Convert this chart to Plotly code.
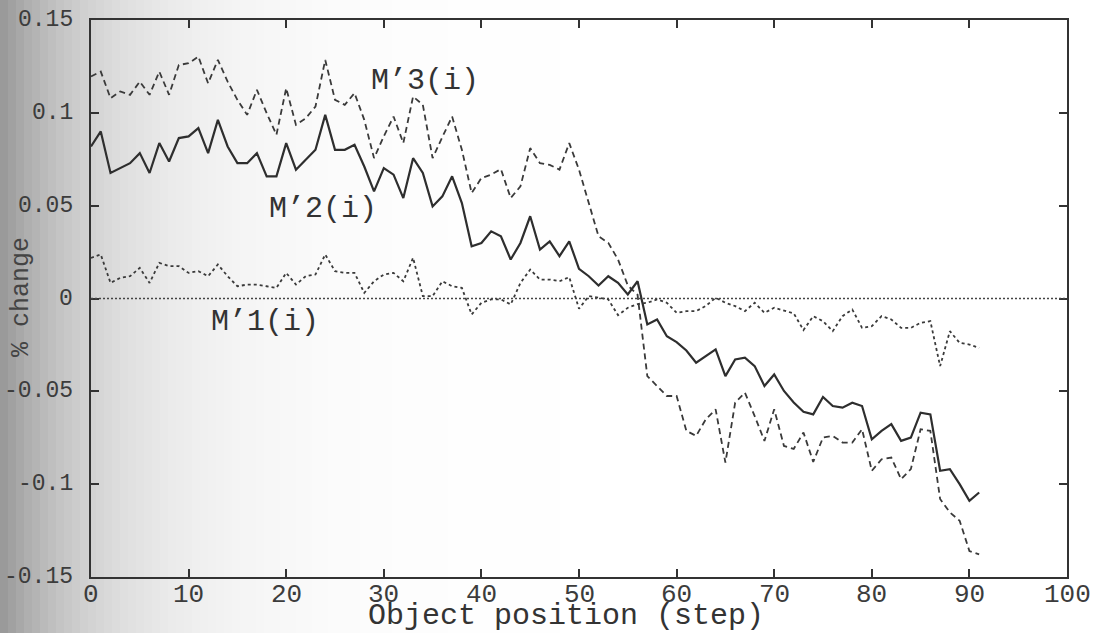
import math
import plotly.graph_objects as go

steps = list(range(0, 92))

m3 = [0.1196, 0.1222, 0.1079, 0.1115, 0.1097, 0.1168, 0.1097, 0.1222, 0.1097, 0.1258,
      0.1267, 0.1303, 0.1159, 0.1285, 0.1168, 0.1070, 0.0989, 0.1124, 0.0998, 0.0882,
      0.1133, 0.0935, 0.0971, 0.1034, 0.1285, 0.1070, 0.1043, 0.1106, 0.0962, 0.0756,
      0.0873, 0.0980, 0.0837, 0.1088, 0.1043, 0.0756, 0.0870, 0.0980, 0.0801, 0.0568,
      0.0649, 0.0667, 0.0697, 0.0541, 0.0604, 0.0810, 0.0729, 0.0720, 0.0694, 0.0837,
      0.0694, 0.0514, 0.0335, 0.0300, 0.0210, 0.0070, 0.0020, -0.0418, -0.0470, -0.0525,
      -0.0525, -0.0713, -0.0740, -0.0650, -0.0597, -0.0884, -0.0561, -0.0507, -0.0633, -0.0767,
      -0.0597, -0.0794, -0.0810, -0.0722, -0.0880, -0.0749, -0.0740, -0.0776, -0.0776, -0.0704,
      -0.0928, -0.0866, -0.0857, -0.0973, -0.0919, -0.0704, -0.0713, -0.1080, -0.1152, -0.1197,
      -0.1360, -0.1378]

m2 = [0.0819, 0.0900, 0.0676, 0.0702, 0.0729, 0.0783, 0.0676, 0.0837, 0.0738, 0.0864,
      0.0873, 0.0918, 0.0783, 0.0962, 0.0819, 0.0729, 0.0729, 0.0783, 0.0658, 0.0658,
      0.0837, 0.0694, 0.0747, 0.0801, 0.0989, 0.0801, 0.0801, 0.0828, 0.0711, 0.0577,
      0.0702, 0.0667, 0.0541, 0.0756, 0.0676, 0.0496, 0.0550, 0.0658, 0.0514, 0.0281,
      0.0299, 0.0362, 0.0335, 0.0210, 0.0299, 0.0443, 0.0263, 0.0308, 0.0228, 0.0308,
      0.0160, 0.0120, 0.0070, 0.0120, 0.0084, 0.0022, 0.0093, -0.0140, -0.0113, -0.0203,
      -0.0235, -0.0280, -0.0346, -0.0310, -0.0274, -0.0418, -0.0328, -0.0319, -0.0364, -0.0471,
      -0.0409, -0.0498, -0.0560, -0.0610, -0.0624, -0.0530, -0.0579, -0.0588, -0.0561, -0.0579,
      -0.0758, -0.0713, -0.0677, -0.0767, -0.0749, -0.0615, -0.0624, -0.0928, -0.0919, -0.1000,
      -0.1090, -0.1045]

m1 = [0.0219, 0.0237, 0.0084, 0.0111, 0.0120, 0.0165, 0.0084, 0.0192, 0.0174, 0.0174,
      0.0138, 0.0147, 0.0120, 0.0183, 0.0120, 0.0066, 0.0075, 0.0075, 0.0066, 0.0057,
      0.0138, 0.0075, 0.0120, 0.0129, 0.0237, 0.0147, 0.0138, 0.0138, 0.0030, 0.0093,
      0.0129, 0.0138, 0.0093, 0.0219, 0.0013, 0.0013, 0.0093, 0.0066, 0.0057, -0.0086,
      -0.0023, -0.0005, -0.0005, -0.0032, 0.0084, 0.0156, 0.0102, 0.0102, 0.0093, 0.0115,
      -0.0055, 0.0013, 0.0004, -0.0005, -0.0090, -0.0050, -0.0030, -0.0023, -0.0005, -0.0023,
      -0.0077, -0.0068, -0.0068, -0.0040, 0.0004, -0.0023, -0.0041, -0.0068, -0.0023, -0.0077,
      -0.0050, -0.0065, -0.0080, -0.0170, -0.0095, -0.0122, -0.0176, -0.0095, -0.0059, -0.0158,
      -0.0149, -0.0095, -0.0113, -0.0158, -0.0158, -0.0131, -0.0122, -0.0364, -0.0176, -0.0239,
      -0.0248, -0.0266]

x_ticks = [0, 10, 20, 30, 40, 50, 60, 70, 80, 90, 100]
y_ticks = [-0.15, -0.1, -0.05, 0, 0.05, 0.1, 0.15]
y_tick_text = ["-0.15", "-0.1", "-0.05", "0", "0.05", "0.1", "0.15"]

series_labels = ["M\u20193(i)", "M\u20192(i)", "M\u20191(i)"]
x_title = "Object position (step)"
y_title = "% change"

W, H = 1097, 633
ML, MR, MT, MB = 91, 30, 20, 56
PW, PH = W - ML - MR, H - MT - MB

INK = "#333333"
LABEL = "#3c3c3c"
MONO = "Liberation Mono, Courier New, monospace"


def px_to_paper_x(px):
    return (px - ML) / PW


def py_to_paper_y(py):
    return 1 - (py - MT) / PH


fig = go.Figure()
fig.add_trace(go.Scatter(x=steps, y=m3, mode="lines", name=series_labels[0],
                         line=dict(color="#3a3a3a", width=1.8, dash="6px,4px")))
fig.add_trace(go.Scatter(x=steps, y=m2, mode="lines", name=series_labels[1],
                         line=dict(color="#2e2e2e", width=2.2)))
fig.add_trace(go.Scatter(x=steps, y=m1, mode="lines", name=series_labels[2],
                         line=dict(color="#3a3a3a", width=1.8, dash="3px,3px")))

shapes = []
# scanned-paper shading on the left side
strip = 8
for k in range(0, 720, strip):
    c = int(round(255 - 105 * math.exp(-(k + strip / 2) / 105.0)))
    c = min(c, 255)
    shapes.append(dict(type="rect", xref="paper", yref="paper",
                       x0=px_to_paper_x(k), x1=px_to_paper_x(k + strip + 1),
                       y0=-0.2, y1=1.2, layer="below", line=dict(width=0),
                       fillcolor=f"rgb({c},{c},{c})"))
# dotted zero line
shapes.append(dict(type="line", xref="paper", yref="y", x0=0, x1=1, y0=0, y1=0,
                   line=dict(color="#444444", width=1.5, dash="2px,2px")))

annotations = [
    dict(x=34.2, y=0.117, xref="x", yref="y", text=series_labels[0], showarrow=False,
         font=dict(family=MONO, size=30, color=INK)),
    dict(x=23.8, y=0.048, xref="x", yref="y", text=series_labels[1], showarrow=False,
         font=dict(family=MONO, size=30, color=INK)),
    dict(x=17.8, y=-0.0124, xref="x", yref="y", text=series_labels[2], showarrow=False,
         font=dict(family=MONO, size=30, color=INK)),
    dict(x=px_to_paper_x(566), y=py_to_paper_y(616), xref="paper", yref="paper",
         xanchor="center", yanchor="middle",
         text=x_title, showarrow=False,
         font=dict(family=MONO, size=30, color=INK)),
    dict(x=px_to_paper_x(21), y=py_to_paper_y(297), xref="paper", yref="paper",
         xanchor="center", yanchor="middle",
         text=y_title, textangle=-90, showarrow=False,
         font=dict(family=MONO, size=25, color="#444444")),
]
# tick labels placed as text on the axis scales
for v in x_ticks:
    annotations.append(dict(x=v, y=py_to_paper_y(595), xref="x", yref="paper",
                            xanchor="center", yanchor="middle", text=str(v),
                            showarrow=False,
                            font=dict(family=MONO, size=26, color=LABEL)))
for v, t in zip(y_ticks, y_tick_text):
    annotations.append(dict(x=px_to_paper_x(75), y=v, xref="paper", yref="y",
                            xanchor="right", yanchor="middle", text=t,
                            showarrow=False,
                            font=dict(family=MONO, size=23, color=LABEL)))

fig.update_layout(
    width=W, height=H,
    margin=dict(l=ML, r=MR, t=MT, b=MB),
    paper_bgcolor="white", plot_bgcolor="rgba(0,0,0,0)",
    showlegend=False,
    shapes=shapes,
    annotations=annotations,
    xaxis=dict(range=[0, 100], tickvals=x_ticks, showticklabels=False,
               showgrid=False, zeroline=False, showline=True, mirror="ticks",
               linecolor=INK, linewidth=2, ticks="inside", ticklen=8, tickwidth=2,
               tickcolor=INK),
    yaxis=dict(range=[-0.15, 0.15], tickvals=y_ticks, showticklabels=False,
               showgrid=False, zeroline=False, showline=True, mirror="ticks",
               linecolor=INK, linewidth=2, ticks="inside", ticklen=8, tickwidth=2,
               tickcolor=INK),
)

fig.write_html("out.html",
               config={"displayModeBar": False, "staticPlot": True},
               post_script="document.body.style.margin='0';document.body.style.overflow='hidden';")
